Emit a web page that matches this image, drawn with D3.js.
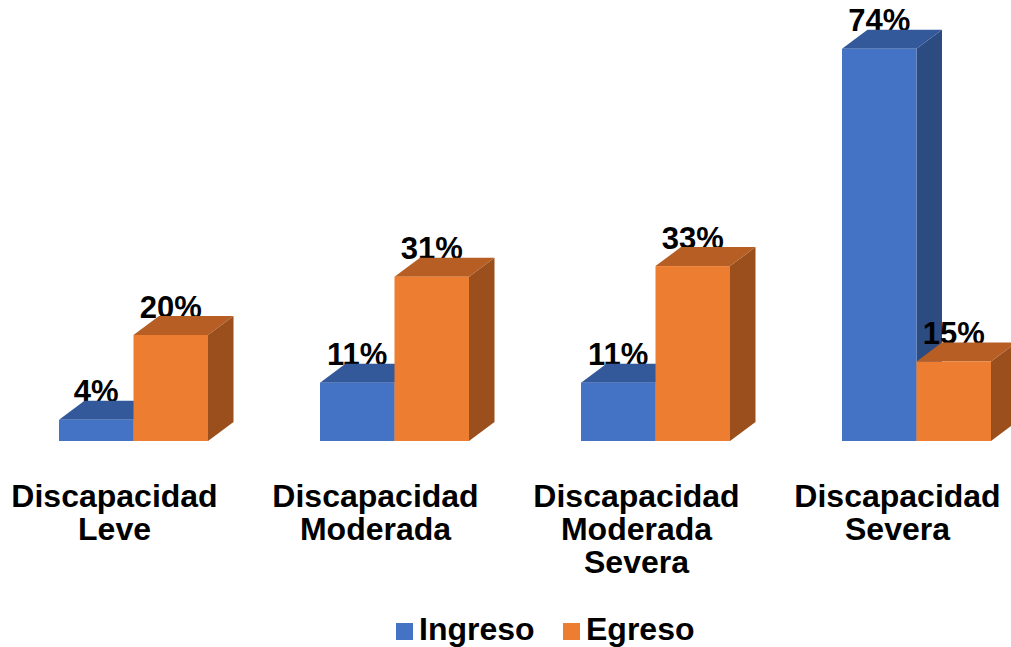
<!DOCTYPE html>
<html>
<head>
<meta charset="utf-8">
<script src="https://cdn.jsdelivr.net/npm/d3@7"></script>
<style>
  html, body { margin: 0; padding: 0; background: #fff; }
  svg { display: block; font-family: "Liberation Sans", Arial, sans-serif; font-weight: bold; }
</style>
</head>
<body>
<svg id="chart" width="1011" height="647"></svg>
<script>
// Discapacidad al ingreso y al egreso (%)
const categories = [
  ["Discapacidad", "Leve"],
  ["Discapacidad", "Moderada"],
  ["Discapacidad", "Moderada", "Severa"],
  ["Discapacidad", "Severa"]
];
const series = ["Ingreso", "Egreso"];
const ingreso = [4, 11, 11, 74];
const egreso = [20, 31, 33, 15];
const yTicks = [0, 80];

const colors = {
  Ingreso: { front: "#4472C4", top: "#34599B", side: "#2C4B80" },
  Egreso:  { front: "#ED7D31", top: "#B65E23", side: "#9A4F1D" }
};

const svg = d3.select("#chart");
const keys = categories.map(c => c.join(" "));

const x0 = d3.scaleBand().domain(keys).range([-16, 1028]).paddingInner(0);
const x1 = d3.scaleBand().domain(series).range([75, 224]);
const y = d3.scaleLinear().domain(yTicks).range([441, 17]);

// depth of the 3D extrusion
const dx = 25.5, dy = 19;

const rows = [];
keys.forEach((k, i) => {
  rows.push({ cat: k, s: "Ingreso", v: ingreso[i] });
  rows.push({ cat: k, s: "Egreso", v: egreso[i] });
});

// each value label is drawn just before its own bar, so the bar's top face
// overlaps the label while the next bar is still painted over both
const plot = svg.append("g");
rows.forEach(d => {
  const xl = x0(d.cat) + x1(d.s);
  const xr = xl + x1.bandwidth();
  const yt = y(d.v);
  const yb = y(0);
  const c = colors[d.s];

  plot.append("text")
    .attr("x", xl + x1.bandwidth() / 2)
    .attr("y", yt - 17.5)
    .attr("text-anchor", "middle")
    .attr("font-size", 31)
    .attr("fill", "#000")
    .text(d.v + "%");

  const g = plot.append("g");
  // side face
  g.append("path")
    .attr("d", `M${xr},${yt} L${xr + dx},${yt - dy} L${xr + dx},${yb - dy} L${xr},${yb} Z`)
    .attr("fill", c.side);
  // top face
  g.append("path")
    .attr("d", `M${xl},${yt} L${xl + dx},${yt - dy} L${xr + dx},${yt - dy} L${xr},${yt} Z`)
    .attr("fill", c.top);
  // front face
  g.append("rect")
    .attr("x", xl).attr("y", yt)
    .attr("width", x1.bandwidth()).attr("height", yb - yt)
    .attr("fill", c.front);
});

// category labels
const cats = svg.append("g");
categories.forEach((lines, i) => {
  const cx = x0(keys[i]) + x0.bandwidth() / 2;
  const t = cats.append("text")
    .attr("text-anchor", "middle")
    .attr("font-size", 32)
    .attr("fill", "#000");
  lines.forEach((ln, j) => {
    t.append("tspan").attr("x", cx).attr("y", 507 + j * 33).text(ln);
  });
});

// legend
const legend = svg.append("g");
const legendPos = [{ s: "Ingreso", x: 396 }, { s: "Egreso", x: 563 }];
legendPos.forEach(p => {
  legend.append("rect")
    .attr("x", p.x).attr("y", 623)
    .attr("width", 17).attr("height", 17)
    .attr("fill", colors[p.s].front);
  legend.append("text")
    .attr("x", p.x + 23).attr("y", 640)
    .attr("font-size", 32)
    .attr("fill", "#000")
    .text(p.s);
});
</script>
</body>
</html>
